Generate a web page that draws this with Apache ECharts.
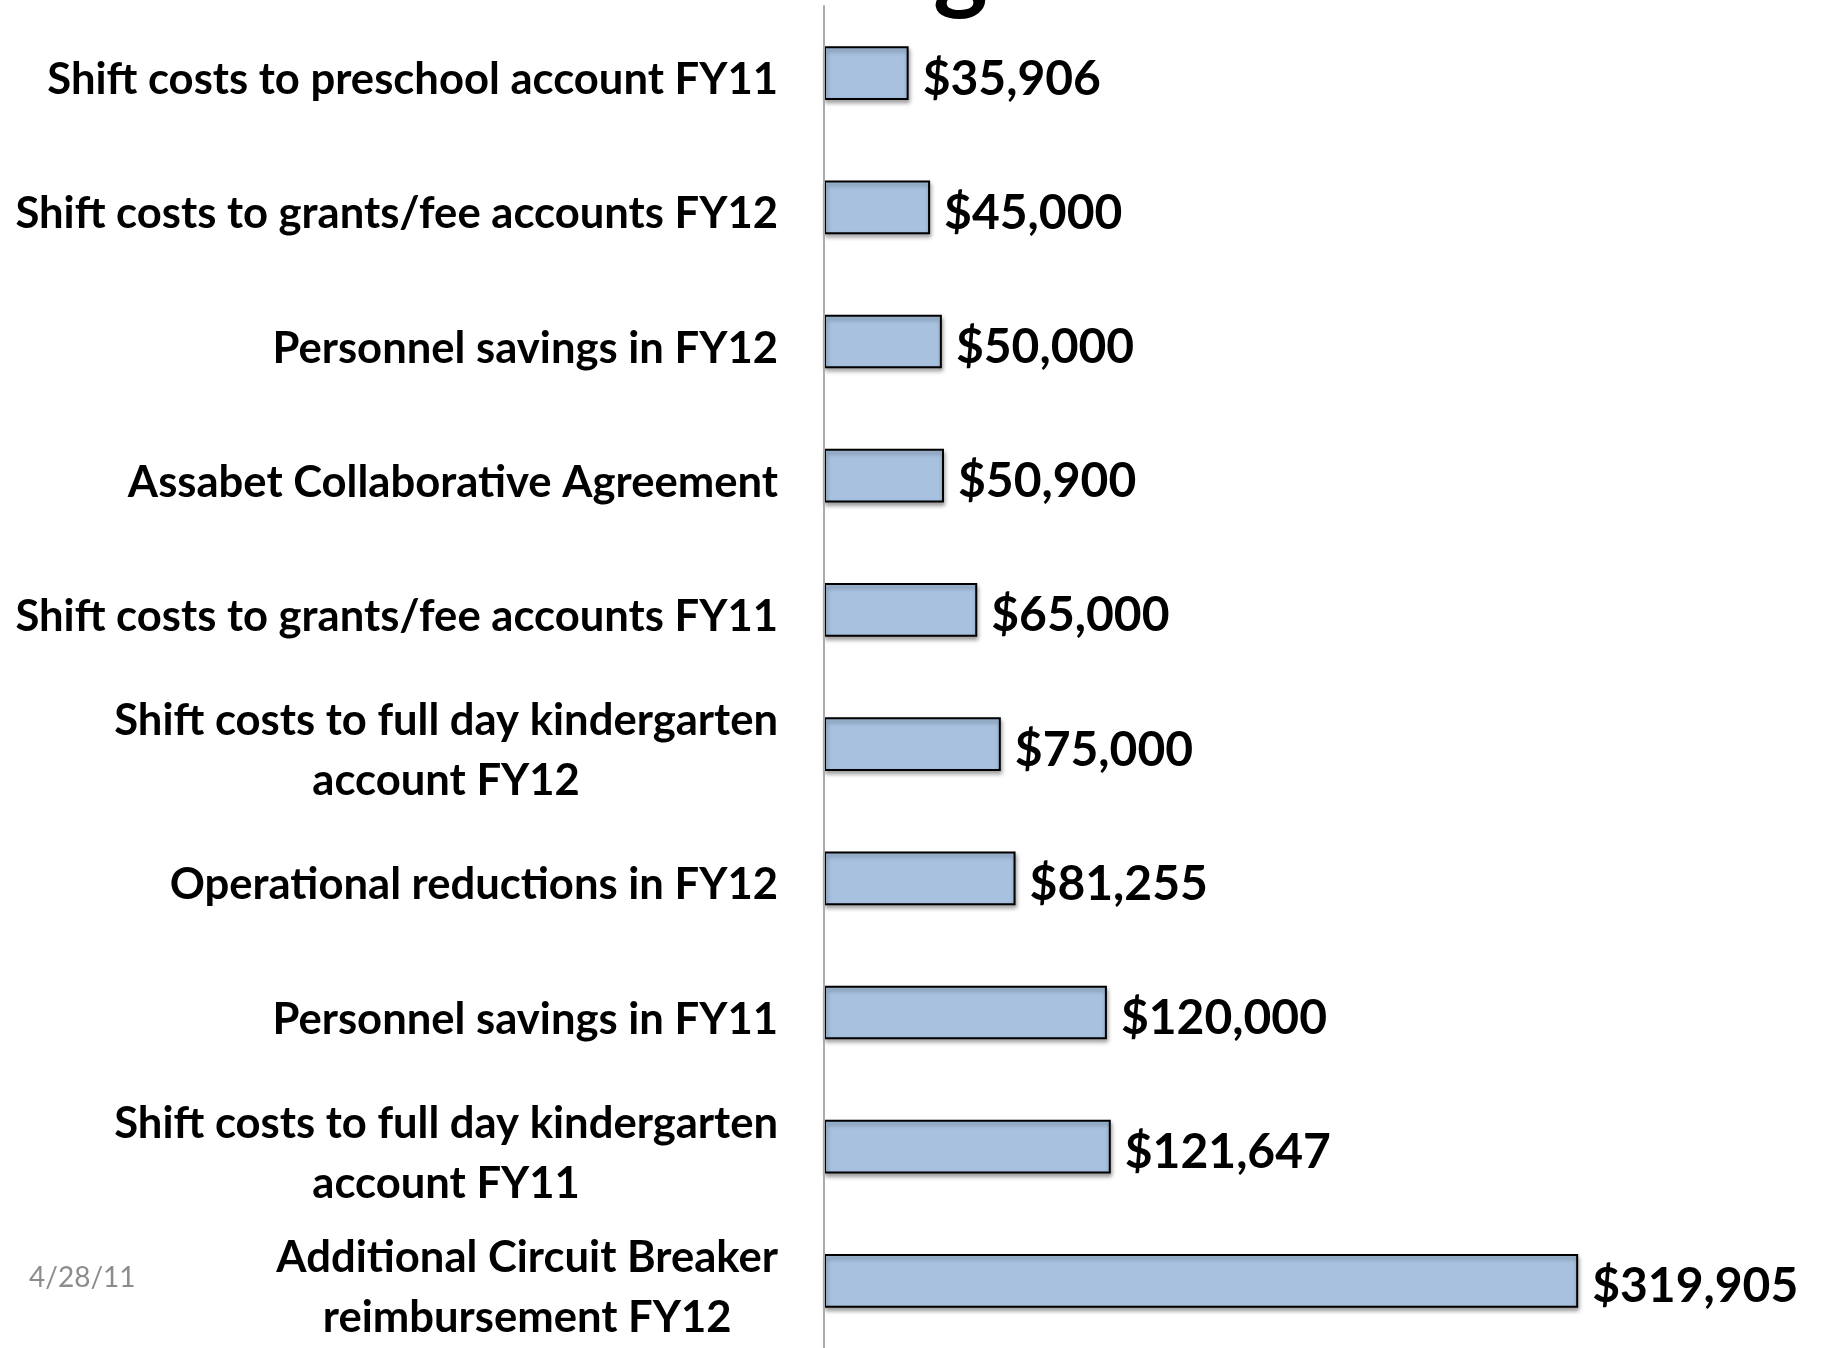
<!DOCTYPE html>
<html>
<head>
<meta charset="utf-8">
<script src="https://cdn.jsdelivr.net/npm/echarts@6/dist/echarts.min.js"></script>
<style>
html,body{margin:0;padding:0;background:#fff;}
#chart{width:1824px;height:1348px;}
</style>
</head>
<body>
<div id="chart"></div>
<script>
const categories = [
  "Shift costs to preschool account FY11",
  "Shift costs to grants/fee accounts FY12",
  "Personnel savings in FY12",
  "Assabet Collaborative Agreement",
  "Shift costs to grants/fee accounts FY11",
  "Shift costs to full day kindergarten\naccount FY12",
  "Operational reductions in FY12",
  "Personnel savings in FY11",
  "Shift costs to full day kindergarten\naccount FY11",
  "Additional Circuit Breaker\nreimbursement FY12"
];
const values = [35906, 45000, 50000, 50900, 65000, 75000, 81255, 120000, 121647, 319905];
const dateText = "4/28/11";
const titleFragment = "g";

const chart = echarts.init(document.getElementById('chart'), null, {renderer: 'canvas'});
chart.setOption({
  animation: false,
  backgroundColor: '#ffffff',
  grid: {left: 824, top: 6, width: 943, height: 1349},
  xAxis: {type: 'value', min: 0, max: 400000, show: false},
  yAxis: {
    type: 'category',
    data: categories,
    inverse: true,
    z: 5,
    axisLine: {lineStyle: {color: '#ababab', width: 2}},
    axisTick: {length: 14, lineStyle: {color: '#ababab', width: 2}},
    axisLabel: {
      margin: 46,
      align: 'right',
      padding: [14, 0, 0, 0],
      formatter: v => v.split('\n').map(l => '{c|' + l + '}').join('\n'),
      rich: {
        c: {align: 'center', fontSize: 43.6, fontWeight: 'bold', fontFamily: 'Lato', color: '#000', lineHeight: 60}
      }
    }
  },
  series: [{
    type: 'bar',
    data: values,
    barWidth: '40%',
    itemStyle: {
      color: '#a7c1df',
      borderColor: '#000',
      borderWidth: 2,
      shadowColor: 'rgba(0,0,0,0.35)',
      shadowBlur: 4,
      shadowOffsetY: 3,
      shadowOffsetX: 1
    },
    label: {
      show: true,
      position: 'right',
      distance: 14,
      offset: [0, 6],
      formatter: p => '$' + p.value.toLocaleString('en-US'),
      fontSize: 48,
      fontWeight: 'bold',
      fontFamily: 'Lato',
      color: '#000'
    }
  }],
  graphic: [
    {type: 'text', z: 10, style: {text: dateText, x: 29, y: 1278, verticalAlign: 'middle', font: '28px Lato', fill: '#8c8c8c'}},
    {type: 'text', z: 10, style: {text: titleFragment, x: 933, y: 18, verticalAlign: 'bottom', font: 'bold 104px Lato', fill: '#000'}}
  ]
});
</script>
</body>
</html>
